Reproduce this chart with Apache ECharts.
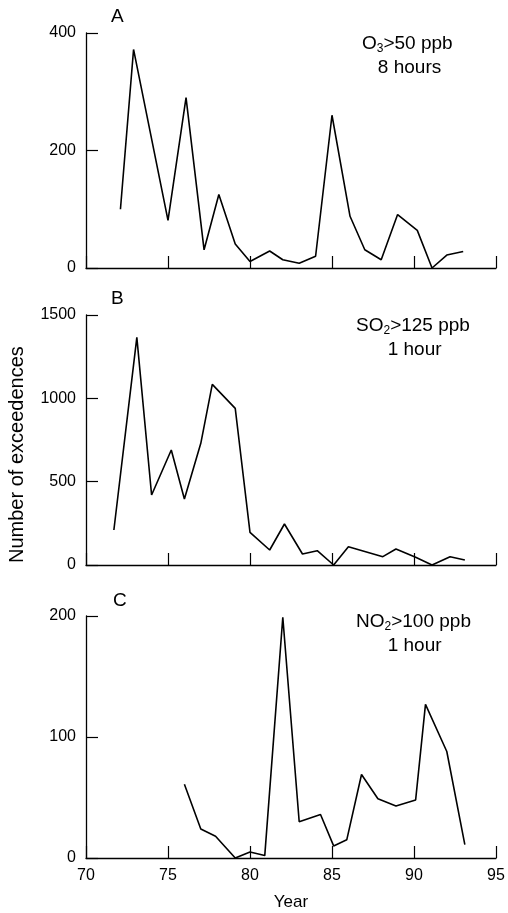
<!DOCTYPE html>
<html>
<head>
<meta charset="utf-8">
<script src="https://cdn.jsdelivr.net/npm/echarts@6/dist/echarts.min.js"></script>
<style>
html,body{margin:0;padding:0;background:#fff;}
#chart{width:508px;height:913px;}
</style>
</head>
<body>
<div id="chart"></div>
<script>
// O3 > 50 ppb, 8 hours
var yearsA = [72.1, 72.9, 75.0, 76.1, 77.2, 78.1, 79.1, 80.0, 81.2, 82.0, 83.0, 84.0, 85.0, 86.1, 87.0, 88.0, 89.0, 90.2, 91.1, 92.0, 93.0];
var valuesA = [100, 372, 81, 290, 31, 125, 41, 11, 29, 14, 8, 20, 260, 88, 31, 14, 91, 64, 0, 22, 28];
// SO2 > 125 ppb, 1 hour
var yearsB = [71.7, 73.1, 74.0, 75.2, 76.0, 77.0, 77.7, 79.1, 80.0, 81.2, 82.1, 83.2, 84.1, 85.1, 86.0, 88.1, 88.9, 90.1, 91.1, 92.2, 93.1];
var valuesB = [210, 1366, 420, 690, 396, 730, 1084, 940, 196, 90, 246, 66, 86, 0, 110, 50, 96, 46, 0, 50, 30];
// NO2 > 100 ppb, 1 hour
var yearsC = [76.0, 77.0, 77.9, 79.1, 80.0, 80.9, 82.0, 83.0, 84.3, 85.1, 85.9, 86.8, 87.8, 88.9, 90.1, 90.7, 92.0, 93.1];
var valuesC = [61, 24, 18, 0, 5, 2, 199, 30, 36, 10, 15, 69, 49, 43, 48, 127, 88, 11];

var yMax = [400, 1500, 200];
var yStep = [200, 500, 100];

function pairs(xs, ys) {
    var out = [];
    for (var i = 0; i < xs.length; i++) {
        out.push([xs[i], ys[i]]);
    }
    return out;
}

var FONT = 'Liberation Sans';
var grids = [
    {left: 86, width: 410, top: 33, height: 235},
    {left: 86, width: 410, top: 315, height: 250},
    {left: 86, width: 410, top: 616, height: 242}
];

var xAxes = [], yAxes = [], series = [];
var datas = [pairs(yearsA, valuesA), pairs(yearsB, valuesB), pairs(yearsC, valuesC)];
for (var g = 0; g < 3; g++) {
    xAxes.push({
        gridIndex: g, type: 'value', min: 70, max: 95, interval: 5,
        axisLine: {lineStyle: {color: '#000', width: 1.3}},
        axisTick: {inside: true, length: 12, lineStyle: {color: '#000', width: 1.2}},
        axisLabel: {show: g === 2, color: '#000', fontSize: 16, fontFamily: FONT, margin: 10},
        splitLine: {show: false},
        name: g === 2 ? 'Year' : '', nameLocation: 'middle', nameGap: 36,
        nameTextStyle: {color: '#000', fontSize: 17, fontFamily: FONT}
    });
    yAxes.push({
        gridIndex: g, type: 'value', min: 0, max: yMax[g], interval: yStep[g],
        axisLine: {show: true, lineStyle: {color: '#000', width: 1.3}},
        axisTick: {show: true, inside: true, length: 12, lineStyle: {color: '#000', width: 1.2}},
        axisLabel: {color: '#000', fontSize: 16, fontFamily: FONT, margin: 10,
                    formatter: function (v) { return String(v); }},
        splitLine: {show: false}
    });
    series.push({
        type: 'line', xAxisIndex: g, yAxisIndex: g, data: datas[g],
        symbol: 'none', lineStyle: {color: '#000', width: 1.6}
    });
}

var rich = {
    s: {fontSize: 19, fontFamily: FONT, color: '#000', lineHeight: 24},
    sub: {fontSize: 12, fontFamily: FONT, color: '#000', padding: [10, 0, 0, 0]}
};

var myChart = echarts.init(document.getElementById('chart'));
var option = {
    animation: false,
    backgroundColor: '#fff',
    grid: grids,
    xAxis: xAxes,
    yAxis: yAxes,
    series: series,
    graphic: [
        {type: 'text', left: 111, top: 7, style: {text: 'A', fontSize: 19, fontFamily: FONT, fill: '#000'}},
        {type: 'text', left: 111, top: 289, style: {text: 'B', fontSize: 19, fontFamily: FONT, fill: '#000'}},
        {type: 'text', left: 113, top: 591, style: {text: 'C', fontSize: 19, fontFamily: FONT, fill: '#000'}},
        {type: 'text', left: 362, top: 34, style: {text: '{s|O}{sub|3}{s|>50 ppb}\n{s|   8 hours}', rich: rich}},
        {type: 'text', left: 356, top: 316, style: {text: '{s|SO}{sub|2}{s|>125 ppb}\n{s|      1 hour}', rich: rich}},
        {type: 'text', left: 356, top: 612, style: {text: '{s|NO}{sub|2}{s|>100 ppb}\n{s|      1 hour}', rich: rich}},
        {type: 'text', x: 7, y: 563, rotation: Math.PI / 2,
         style: {text: 'Number of exceedences', fontSize: 20, fontFamily: FONT, fill: '#000'}}
    ]
};
myChart.setOption(option);
</script>
</body>
</html>
